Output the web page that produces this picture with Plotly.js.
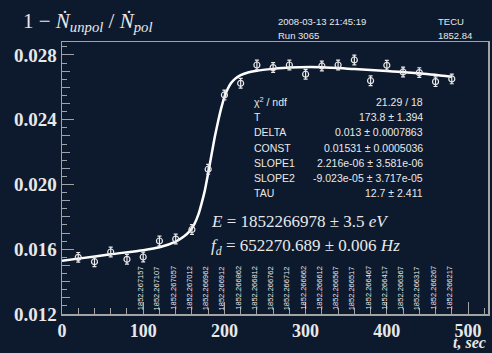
<!DOCTYPE html>
<html>
<head>
<meta charset="utf-8">
<script src="https://cdn.plot.ly/plotly-3.0.1.min.js"></script>
<style>html,body{margin:0;padding:0;background:#0d1a2e;}#chart{width:492px;height:353px;}</style>
</head>
<body>
<div id="chart"></div>
<script>
// measured points
const timeSec = [20,40,60,80,100,120,140,160,180,200,220,240,260,280,300,320,340,360,380,400,420,440,460,480];
const rateVal = [0.01550,0.01523,0.01583,0.01538,0.01552,0.01651,0.01663,0.01722,0.02094,0.02553,0.02625,0.02738,0.02722,0.02738,0.02681,0.02732,0.02738,0.02769,0.02641,0.02736,0.02695,0.02691,0.02635,0.02652];
const rateErr = [0.0003,0.0003,0.0003,0.0003,0.0003,0.0003,0.0003,0.0003,0.0003,0.0003,0.0003,0.0003,0.0003,0.0003,0.0003,0.0003,0.0003,0.0003,0.0003,0.0003,0.0003,0.0003,0.0003,0.0003];
// fit curve
const fitT = [0,20,60,100,120,140,150,157,163,168,172,176,180,184,188,192,196,200,204,208,213,220,230,240,260,280,320,360,400,440,480];
const fitV = [0.01529,0.01542,0.01569,0.01594,0.01612,0.01647,0.01678,0.01710,0.01755,0.01815,0.01885,0.01965,0.02070,0.02180,0.02290,0.02385,0.02470,0.02540,0.02590,0.02625,0.02652,0.02675,0.02693,0.02703,0.02714,0.02722,0.02724,0.02713,0.02701,0.02687,0.02666];
// energy labels per point
const labelT = [100,120,140,160,180,200,220,240,260,280,300,320,340,360,380,400,420,440,460,480];
const labelTxt = ["1852.267157","1852.267107","1852.267057","1852.267012","1852.266962","1852.266912","1852.266862","1852.266812","1852.266762","1852.266712","1852.266662","1852.266612","1852.266567","1852.266517","1852.266467","1852.266417","1852.266367","1852.266317","1852.266267","1852.266217"];
// fit statistics
const statNames = ["χ<sup>2</sup> / ndf","T","DELTA","CONST","SLOPE1","SLOPE2","TAU"];
const statVals = ["21.29 / 18","173.8 ± 1.394","0.013 ± 0.0007863","0.01531 ± 0.0005036","2.216e-06 ± 3.581e-06","-9.023e-05 ± 3.717e-05","12.7 ± 2.411"];

const BG = "#0d1a2e", FG = "#e8e8e8", AX = "#a3a3a3";
const SERIF = "Liberation Serif, Times New Roman, serif";
const SANS = "Liberation Sans, Arial, sans-serif";

const traces = [
  {x: fitT, y: fitV, type: "scatter", mode: "lines", line: {color: "#ffffff", width: 2.5, shape: "spline", smoothing: 0.6}, hoverinfo: "skip"},
  {x: timeSec, y: rateVal, type: "scatter", mode: "markers",
   marker: {symbol: "circle-open", size: 6, color: FG, line: {width: 1.2, color: FG}},
   error_y: {type: "data", array: rateErr, visible: true, color: FG, thickness: 1.2, width: 2}},
  {x: [0], y: [0.012], yaxis: "y2", type: "scatter", mode: "markers", marker: {opacity: 0}, hoverinfo: "skip"}
];

const ann = [];
labelT.forEach((t, i) => ann.push({x: t, y: 0, xref: "x", yref: "paper", text: labelTxt[i], textangle: -90,
  showarrow: false, xanchor: "center", yanchor: "bottom", yshift: 2, xshift: -3, font: {family: SANS, size: 7.5, color: FG}}));
const rowsY = [0.7805, 0.7254, 0.6691, 0.6114, 0.5551, 0.5, 0.4436];
statNames.forEach((s, i) => {
  ann.push({x: 0.447, y: rowsY[i], xref: "paper", yref: "paper", text: s, showarrow: false, xanchor: "left", yanchor: "middle", font: {family: SANS, size: 10.5, color: FG}});
  ann.push({x: 0.852, y: rowsY[i], xref: "paper", yref: "paper", text: statVals[i], showarrow: false, xanchor: "right", yanchor: "middle", font: {family: SANS, size: 10.5, color: FG}});
});
ann.push({x: 0.345, y: 0.339, xref: "paper", yref: "paper", xanchor: "left", yanchor: "middle", showarrow: false,
  text: "<i>E</i> = 1852266978 ± 3.5 <i>eV</i>", font: {family: SERIF, size: 17, color: FG}});
ann.push({x: 0.345, y: 0.2474, xref: "paper", yref: "paper", xanchor: "left", yanchor: "middle", showarrow: false,
  text: "<i>f<sub>d</sub></i> = 652270.689 ± 0.006 <i>Hz</i>", font: {family: SERIF, size: 17, color: FG}});
ann.push({x: -0.097, y: 1.0735, xref: "paper", yref: "paper", xanchor: "left", yanchor: "middle", showarrow: false,
  text: "1 − <i>Ṅ<sub>unpol</sub></i> / <i>Ṅ<sub>pol</sub></i>", font: {family: SERIF, size: 21, color: FG}});
ann.push({x: 0.502, y: 1.0746, xref: "paper", yref: "paper", xanchor: "left", yanchor: "middle", showarrow: false, text: "2008-03-13 21:45:19", font: {family: SANS, size: 9.5, color: FG}});
ann.push({x: 0.502, y: 1.0257, xref: "paper", yref: "paper", xanchor: "left", yanchor: "middle", showarrow: false, text: "Run 3065", font: {family: SANS, size: 9.5, color: FG}});
ann.push({x: 0.877, y: 1.0746, xref: "paper", yref: "paper", xanchor: "left", yanchor: "middle", showarrow: false, text: "TECU", font: {family: SANS, size: 9.5, color: FG}});
ann.push({x: 0.877, y: 1.0257, xref: "paper", yref: "paper", xanchor: "left", yanchor: "middle", showarrow: false, text: "1852.84", font: {family: SANS, size: 9.5, color: FG}});
ann.push({x: 1.0, y: -0.144, xref: "paper", yref: "paper", xanchor: "right", yanchor: "bottom", showarrow: false, text: "<b><i>t, sec</i></b>", font: {family: SERIF, size: 16, color: FG}});

const layout = {
  width: 492, height: 353,
  paper_bgcolor: BG, plot_bgcolor: BG,
  margin: {l: 61.5, r: 4, t: 42, b: 39},
  showlegend: false,
  xaxis: {range: [0, 524.6], dtick: 100, tick0: 0, ticks: "inside", ticklen: 12, tickcolor: AX, tickwidth: 1,
    minor: {dtick: 20, ticks: "inside", ticklen: 6, tickcolor: AX}, ticklabelstandoff: 0,
    showgrid: false, zeroline: false, showline: true, linecolor: AX, linewidth: 1.5, mirror: true,
    tickfont: {family: SERIF, size: 18, color: FG}, tickprefix: "<b>", ticksuffix: "</b>"},
  yaxis: {range: [0.012, 0.0288], dtick: 0.004, tick0: 0.012, ticks: "inside", ticklen: 12, tickcolor: AX, tickwidth: 1,
    minor: {dtick: 0.0005, ticks: "inside", ticklen: 5, tickcolor: AX},
    tickformat: ".3f", showgrid: false, zeroline: false, showline: true, linecolor: AX, linewidth: 1.5, mirror: true,
    tickfont: {family: SERIF, size: 19, color: FG}, tickprefix: "<b>", ticksuffix: "</b>"},
  yaxis2: {overlaying: "y", range: [0.012, 0.0288], dtick: 0.001, tick0: 0.012, ticks: "inside", ticklen: 8, tickcolor: AX,
    showticklabels: false, showgrid: false, zeroline: false, showline: false, side: "left"},
  annotations: ann
};
Plotly.newPlot("chart", traces, layout, {staticPlot: true, displayModeBar: false});
</script>
</body>
</html>
